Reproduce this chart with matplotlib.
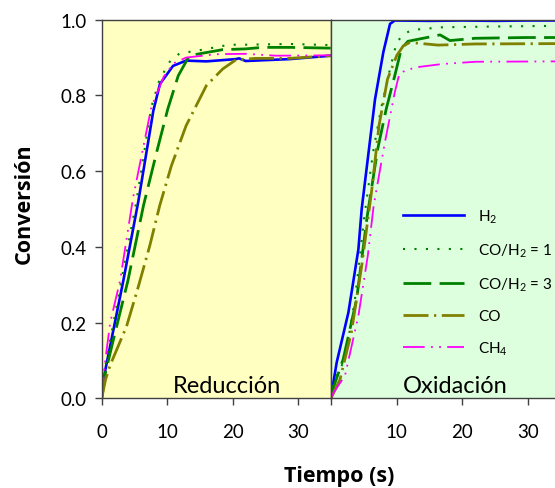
import matplotlib
matplotlib.use("Agg")
import matplotlib.pyplot as plt

plt.rcParams['font.family'] = ['Lato', 'DejaVu Sans']
plt.rcParams['mathtext.fontset'] = 'custom'
plt.rcParams['mathtext.rm'] = 'Lato'
plt.rcParams['mathtext.it'] = 'Lato:italic'

#series labels
labels = ["H$_2$", "CO/H$_2$ = 1", "CO/H$_2$ = 3", "CO", "CH$_4$"]

#reduction data (time in s, conversion)
t_red_h2 = [0, 0.5, 3.3, 5.6, 7.9, 8.9, 10.9, 12.9, 16, 20.5, 21, 22, 28.7, 35]
c_red_h2 = [0, 0.07, 0.31, 0.52, 0.76, 0.83, 0.878, 0.892, 0.890, 0.896, 0.898, 0.891, 0.896, 0.905]
t_red_co1 = [0, 0.5, 3.0, 5.3, 7.6, 8.8, 10.4, 11.9, 14.5, 19.5, 22, 28.7, 35]
c_red_co1 = [0, 0.08, 0.31, 0.52, 0.77, 0.84, 0.889, 0.911, 0.918, 0.934, 0.934, 0.936, 0.933]
t_red_co3 = [0, 0.6, 2, 4, 6.4, 8.4, 10.1, 11.7, 13.4, 14.9, 18.5, 22, 24.6, 28.7, 35]
c_red_co3 = [0, 0.07, 0.17, 0.31, 0.51, 0.65, 0.764, 0.852, 0.905, 0.91, 0.921, 0.923, 0.927, 0.927, 0.925]
t_red_co = [0, 0.6, 1.26, 3.8, 5.57, 7.35, 8.87, 10.65, 12.9, 16, 18.5, 20.5, 23.6, 28.7, 35]
c_red_co = [0, 0.05, 0.086, 0.19, 0.293, 0.403, 0.509, 0.614, 0.72, 0.826, 0.87, 0.894, 0.898, 0.898, 0.905]
t_red_ch4 = [0, 0.4, 1.3, 2.8, 4.8, 7.6, 9.5, 11, 12.9, 17.5, 22, 26.6, 35]
c_red_ch4 = [0, 0.08, 0.2, 0.31, 0.53, 0.77, 0.85, 0.885, 0.90, 0.909, 0.91, 0.905, 0.906]

#oxidation data
t_ox_h2 = [0, 0.2, 0.87, 2.65, 4.17, 4.67, 6.7, 7.96, 8.98, 9.7, 15, 20, 25, 30, 35]
c_ox_h2 = [0, 0.025, 0.095, 0.227, 0.394, 0.50, 0.79, 0.914, 0.989, 0.998, 0.997, 0.998, 0.997, 0.998, 0.998]
t_ox_co1 = [0, 0.3, 2.13, 3.65, 5.0, 6.4, 7.6, 8.98, 9.99, 11, 12.3, 16.9, 24.5, 35]
c_ox_co1 = [0, 0.04, 0.104, 0.262, 0.47, 0.65, 0.764, 0.87, 0.94, 0.961, 0.973, 0.98, 0.982, 0.984]
t_ox_co3 = [0, 0.4, 1.87, 3.9, 5.5, 7.1, 8.4, 9.7, 10.7, 11.7, 14.3, 16.6, 18.1, 21.9, 29.6, 35]
c_ox_co3 = [0, 0.03, 0.104, 0.262, 0.48, 0.658, 0.764, 0.852, 0.923, 0.943, 0.952, 0.96, 0.945, 0.951, 0.953, 0.953]
t_ox_co = [0, 1.37, 3.1, 4.67, 6.2, 7.3, 8.6, 9.99, 11, 12, 16.3, 21.9, 35]
c_ox_co = [0, 0.05, 0.174, 0.35, 0.55, 0.72, 0.843, 0.905, 0.931, 0.94, 0.933, 0.936, 0.937]
t_ox_ch4 = [0, 0.2, 2.13, 4.17, 5.6, 6.5, 8.2, 9.7, 10.4, 11, 12.8, 16.9, 22, 35]
c_ox_ch4 = [0, 0.01, 0.06, 0.218, 0.377, 0.51, 0.676, 0.808, 0.857, 0.863, 0.874, 0.883, 0.889, 0.89]

#line styles for each series
styles = [
    dict(color='#0000FF', lw=1.9, ls='-'),
    dict(color='#008000', lw=1.5, ls=(0, (1, 4.5))),
    dict(color='#008000', lw=2.0, ls=(0, (10, 3))),
    dict(color='#808000', lw=2.0, ls=(0, (9, 2, 0.8, 2))),
    dict(color='#FF00FF', lw=1.3, ls=(0, (12, 3.5, 1, 3.5, 1, 3.5))),
]

fig = plt.figure(figsize=(5.55, 4.89), dpi=100)
ax1 = fig.add_axes([0.1832, 0.1834, 0.4126, 0.7742])
ax2 = fig.add_axes([0.5964, 0.1834, 0.4144, 0.7742])

ax1.set_facecolor('#FFFFC2')
ax2.set_facecolor('#DEFFDE')

red = [(t_red_h2, c_red_h2), (t_red_co1, c_red_co1), (t_red_co3, c_red_co3),
       (t_red_co, c_red_co), (t_red_ch4, c_red_ch4)]
ox = [(t_ox_h2, c_ox_h2), (t_ox_co1, c_ox_co1), (t_ox_co3, c_ox_co3),
      (t_ox_co, c_ox_co), (t_ox_ch4, c_ox_ch4)]

for (t, c), st in zip(red, styles):
    ax1.plot(t, c, **st)
handles = []
for (t, c), st, lab in zip(ox, styles, labels):
    h, = ax2.plot(t, c, label=lab, **st)
    handles.append(h)

for ax in (ax1, ax2):
    ax.set_xlim(0, 35)
    ax.set_ylim(0, 1.0)
    ax.tick_params(direction='out', length=5, width=1, colors='#404040', labelcolor='black', labelsize=13.5)
    ax.tick_params(axis='x', pad=13)
    for s in ax.spines.values():
        s.set_color('#404040')
        s.set_linewidth(1)

ax1.set_xticks([0, 10, 20, 30])
ax1.set_yticks([0, 0.2, 0.4, 0.6, 0.8, 1.0])
ax1.set_yticklabels(['0.0', '0.2', '0.4', '0.6', '0.8', '1.0'])
ax1.tick_params(axis='y', pad=6)
ax2.set_xticks([0, 10, 20, 30])
ax2.set_xticklabels(['', '10', '20', '30'])
ax2.set_yticks([])

ax1.text(19.2, 0.017, 'Reducción', ha='center', va='baseline', fontsize=17)
ax2.text(18.9, 0.017, 'Oxidación', ha='center', va='baseline', fontsize=17)

#axis titles
fig.text(24 / 555, 1 - 204 / 489, 'Conversión', rotation=90, ha='center', va='center',
         fontsize=15.5, fontweight='bold', family=['Open Sans', 'DejaVu Sans'])
fig.text(339 / 555, 1 - 477 / 489, 'Tiempo (s)', ha='center', va='center',
         fontsize=15.5, fontweight='bold', family=['Open Sans', 'DejaVu Sans'])

ax2.legend(handles=handles, loc='upper left', bbox_to_anchor=(0.726, 0.574),
           bbox_transform=fig.transFigure, frameon=False, fontsize=11,
           handlelength=4.0, handletextpad=0.9, labelspacing=1.08,
           borderpad=0, borderaxespad=0)

fig.savefig('out.png', dpi=100)
